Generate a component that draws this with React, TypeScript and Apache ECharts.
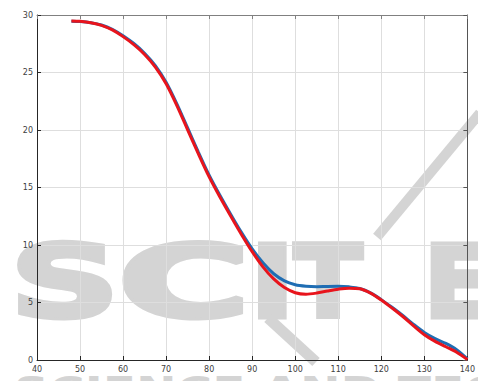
import React, { useEffect, useRef } from "react";
import * as echarts from "echarts";

const xTicks = [40, 50, 60, 70, 80, 90, 100, 110, 120, 130, 140];
const yTicks = [0, 5, 10, 15, 20, 25, 30];

const redX = [48, 50, 52.5, 55, 57.5, 60, 62.5, 65, 67.5, 70, 72.5, 75, 77.5, 80, 82.5, 85, 87.5, 90, 92.5, 95, 97.5, 100, 102.5, 105, 107.5, 110, 112.5, 115, 117.5, 120, 122.5, 125, 127.5, 130, 132.5, 135, 137.5, 140];
const redY = [29.48, 29.45, 29.33, 29.1, 28.7, 28.12, 27.42, 26.57, 25.47, 24.02, 22.12, 20.02, 17.92, 15.92, 14.17, 12.52, 10.92, 9.42, 8.1, 7.05, 6.3, 5.85, 5.72, 5.82, 6.0, 6.16, 6.25, 6.2, 5.82, 5.22, 4.52, 3.78, 2.97, 2.2, 1.62, 1.15, 0.68, 0.05];

const blueX = [48, 50, 52.5, 55, 57.5, 60, 62.5, 65, 67.5, 70, 72.5, 75, 77.5, 80, 82.5, 85, 87.5, 90, 92.5, 95, 97.5, 100, 102.5, 105, 107.5, 110, 112.5, 115, 117.5, 120, 122.5, 125, 127.5, 130, 132.5, 135, 137.5, 140];
const blueY = [29.46, 29.43, 29.33, 29.13, 28.76, 28.2, 27.52, 26.68, 25.6, 24.16, 22.28, 20.18, 18.08, 16.08, 14.33, 12.68, 11.1, 9.66, 8.45, 7.5, 6.88, 6.55, 6.42, 6.38, 6.4, 6.41, 6.36, 6.22, 5.84, 5.25, 4.58, 3.87, 3.1, 2.4, 1.86, 1.44, 0.9, 0.1];

const redData = redX.map((x, i) => [x, redY[i]]);
const blueData = blueX.map((x, i) => [x, blueY[i]]);

export default function App() {
  const ref = useRef<HTMLDivElement>(null);
  useEffect(() => {
    if (!ref.current) return;
    const chart = echarts.init(ref.current, null, { renderer: "svg" });
    const wm = "#d4d4d4";
    const letterFont = "bold 100px 'DejaVu Sans'";
    const letter = (t: string, x: number, sx: number) => ({
      type: "text",
      x,
      y: 282,
      scaleX: sx,
      z: -10,
      silent: true,
      style: {
        text: t,
        font: letterFont,
        fill: wm,
        stroke: wm,
        lineWidth: 5,
        verticalAlign: "middle",
        align: "left",
      },
    });
    chart.setOption({
      animation: false,
      backgroundColor: "#ffffff",
      graphic: [
        letter("S", 10, 1.52),
        letter("C", 118, 1.8),
        letter("I", 250, 1.2),
        letter("T", 294, 1.0),
        letter("E", 424, 1.0),
        {
          type: "polyline",
          z: -10,
          silent: true,
          shape: { points: [[377, 237], [480, 113]] },
          style: { stroke: wm, lineWidth: 10, fill: null },
        },
        {
          type: "polyline",
          z: -10,
          silent: true,
          shape: { points: [[268, 318], [316, 362]] },
          style: { stroke: wm, lineWidth: 11, fill: null },
        },
        {
          type: "text",
          x: 14,
          y: 371,
          z: -10,
          silent: true,
          scaleX: 1.35,
          style: {
            text: "SCIENCE AND TECHNOLOGY",
            font: "bold 36px 'DejaVu Sans'",
            fill: wm,
            verticalAlign: "top",
          },
        },
      ],
      grid: { left: 37, right: 5, top: 15, bottom: 21, containLabel: false },
      xAxis: [
        {
          type: "value",
          min: xTicks[0],
          max: xTicks[xTicks.length - 1],
          interval: 10,
          position: "bottom",
          axisLine: { show: true, onZero: false, lineStyle: { color: "#262626", width: 1 } },
          axisTick: { show: true, inside: true, length: 4, lineStyle: { color: "#262626" } },
          axisLabel: { fontSize: 8, color: "#404040", margin: 5, fontFamily: "'DejaVu Sans'" },
          splitLine: { show: true, lineStyle: { color: "#dedede", width: 1 } },
        },
        {
          type: "value",
          min: xTicks[0],
          max: xTicks[xTicks.length - 1],
          interval: 10,
          position: "top",
          axisLine: { show: true, onZero: false, lineStyle: { color: "#808080", width: 1 } },
          axisTick: { show: true, inside: true, length: 4, lineStyle: { color: "#808080" } },
          axisLabel: { show: false },
          splitLine: { show: false },
        },
      ],
      yAxis: [
        {
          type: "value",
          min: yTicks[0],
          max: yTicks[yTicks.length - 1],
          interval: 5,
          position: "left",
          axisLine: { show: true, onZero: false, lineStyle: { color: "#262626", width: 1 } },
          axisTick: { show: true, inside: true, length: 4, lineStyle: { color: "#262626" } },
          axisLabel: { fontSize: 8, color: "#404040", margin: 4, fontFamily: "'DejaVu Sans'" },
          splitLine: { show: true, lineStyle: { color: "#dedede", width: 1 } },
        },
        {
          type: "value",
          min: yTicks[0],
          max: yTicks[yTicks.length - 1],
          interval: 5,
          position: "right",
          axisLine: { show: true, onZero: false, lineStyle: { color: "#555555", width: 1 } },
          axisTick: { show: true, inside: true, length: 4, lineStyle: { color: "#555555" } },
          axisLabel: { show: false },
          splitLine: { show: false },
        },
      ],
      series: [
        {
          type: "line",
          data: blueData,
          smooth: 0.3,
          showSymbol: false,
          lineStyle: { color: "#1f6db3", width: 3 },
          z: 3,
        },
        {
          type: "line",
          data: redData,
          smooth: 0.3,
          showSymbol: false,
          lineStyle: { color: "#e8141c", width: 3 },
          z: 4,
        },
      ],
    });
    return () => chart.dispose();
  }, []);
  return (
    <div
      ref={ref}
      style={{ position: "fixed", left: 0, top: 0, width: 478, height: 381 }}
    />
  );
}
